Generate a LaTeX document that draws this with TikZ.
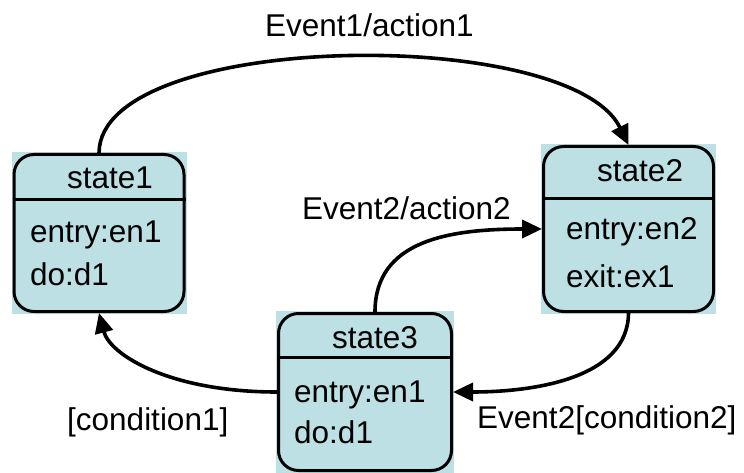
\documentclass[tikz,border=0pt]{standalone}
\usepackage{fontspec}
\setmainfont{Liberation Sans}
\usetikzlibrary{arrows.meta,backgrounds}
\definecolor{statefill}{RGB}{188,224,227}
\tikzset{
  statebox/.style={draw=black, line width=3pt, rounded corners=20pt, inner sep=0pt},
  sep/.style={line width=3pt},
  txt/.style={font=\fontsize{31.5}{36}\selectfont, inner sep=0pt, anchor=base west},
  trans/.style={line width=3.6pt, -{Triangle[length=20pt,width=18pt]}},
}
\begin{document}
\begin{tikzpicture}[x=1pt,y=-1pt]
\useasboundingbox (0,0) rectangle (744,473);
% states
\node[statebox, minimum width=170pt, minimum height=157pt] (s1) at (99,233) {};
\node[statebox, minimum width=170pt, minimum height=165pt] (s2) at (628.5,229) {};
\node[statebox, minimum width=173pt, minimum height=157pt] (s3) at (365,392) {};
\begin{scope}[on background layer]
\foreach \s in {s1,s2,s3}
  \fill[statefill] ([shift={(-1,1)}]\s.south west) rectangle ([shift={(1,-1)}]\s.north east);
\end{scope}
\draw[sep] (s1.west |- 0,200) -- (s1.east |- 0,200);
\draw[sep] (s2.west |- 0,199) -- (s2.east |- 0,199);
\draw[sep] (s3.west |- 0,357) -- (s3.east |- 0,357);
% state texts
\node[txt] (t1) at (67,189) {state1};
\node[txt] (e1) at (30,242) {entry:en1};
\node[txt] (d1) at (30,285) {do:d1};
\node[txt] (t2) at (597,182) {state2};
\node[txt] (e2) at (566,240) {entry:en2};
\node[txt] (x2) at (566,287) {exit:ex1};
\node[txt] (t3) at (332,348) {state3};
\node[txt] (e3) at (294,402) {entry:en1};
\node[txt] (d3) at (294,443) {do:d1};
% transitions
\draw[trans] (s1.north) .. controls (100,30) and (570,25) .. (s2.north);
\draw[trans] (s2.south) .. controls (628,380) and (530,392) .. (s3.east);
\draw[trans] (s3.west) .. controls (170,392) and (110,355) .. (s1.south);
\draw[trans] ([xshift=10pt]s3.north) .. controls (375,240) and (450,229) .. (s2.west);
% labels
\node[txt] (l1) at (265,37) {Event1/action1};
\node[txt] (l2) at (302,219) {Event2/action2};
\node[txt] (l3) at (67,430) {[condition1]};
\node[txt] (l4) at (477,428) {Event2[condition2]};
\end{tikzpicture}
\end{document}
